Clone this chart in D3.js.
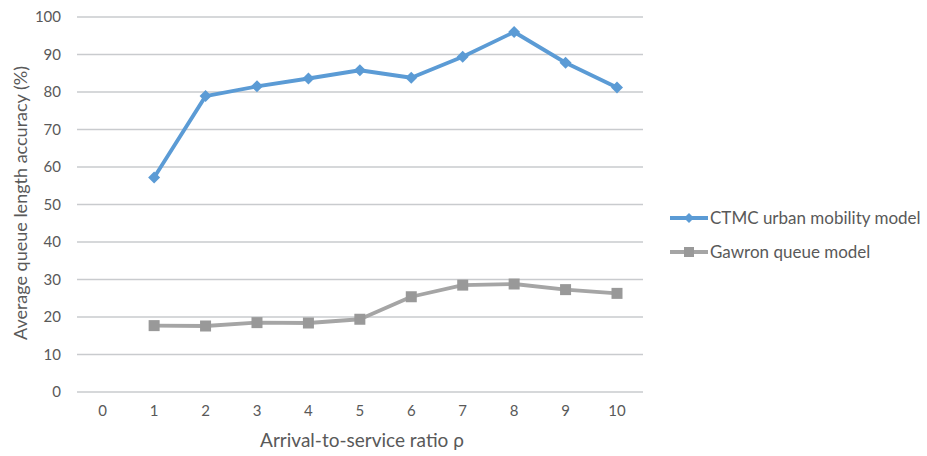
<!DOCTYPE html>
<html><head><meta charset="utf-8">
<script src="https://cdn.jsdelivr.net/npm/d3@7"></script>
<style>body{margin:0;background:#fff}svg{display:block}text{font-family:Lato,"Open Sans",sans-serif;fill:#595959}</style>
</head><body>
<script>
const categories = [0,1,2,3,4,5,6,7,8,9,10];
const ctmc = [null,57.2,78.9,81.5,83.6,85.8,83.8,89.4,96.0,87.8,81.2];
const gawron = [null,17.7,17.6,18.5,18.4,19.4,25.4,28.5,28.8,27.3,26.3];
const yTicks = [0,10,20,30,40,50,60,70,80,90,100];
const seriesNames = ["CTMC urban mobility model","Gawron queue model"];
const colors = ["#5B9BD5","#A5A5A5"];

const W=927,H=456;
const svg=d3.select("body").append("svg").attr("width",W).attr("height",H);
const x=d3.scalePoint().domain(categories).range([102.7,617]);
const y=d3.scaleLinear().domain([0,100]).range([392,17]);

svg.append("g").selectAll("line").data(yTicks).join("line")
  .attr("x1",77).attr("x2",643).attr("y1",d=>y(d)).attr("y2",d=>y(d))
  .attr("stroke","#C9CBCE").attr("stroke-width",1.3);

svg.append("g").selectAll("text").data(yTicks).join("text")
  .attr("x",61).attr("y",d=>y(d)).attr("dy","0.35em").attr("text-anchor","end")
  .attr("font-size",15).text(d=>d);
svg.append("g").selectAll("text").data(categories).join("text")
  .attr("x",d=>x(d)).attr("y",416).attr("text-anchor","middle")
  .attr("font-size",15).text(d=>d);

svg.append("text").attr("x",362).attr("y",447).attr("text-anchor","middle")
  .attr("font-size",19).text("Arrival-to-service ratio ρ");
svg.append("text").attr("transform","translate(27,203) rotate(-90)").attr("text-anchor","middle")
  .attr("font-size",18).text("Average queue length accuracy (%)");

const line=d3.line().defined(d=>d.v!=null).x(d=>x(d.c)).y(d=>y(d.v));
const allSeries=[ctmc,gawron];
allSeries.forEach((s,i)=>{
  const data=categories.map((c,j)=>({c,v:s[j]}));
  svg.append("path").datum(data).attr("d",line).attr("fill","none")
    .attr("stroke",colors[i]).attr("stroke-width",3.8).attr("stroke-linejoin","round");
  const pts=data.filter(d=>d.v!=null);
  if(i===0){
    svg.append("g").selectAll("path").data(pts).join("path")
      .attr("d",d3.symbol().type(d3.symbolSquare).size(72)())
      .attr("transform",d=>`translate(${x(d.c)},${y(d.v)}) rotate(45)`).attr("fill",colors[i]);
  } else {
    svg.append("g").selectAll("rect").data(pts).join("rect")
      .attr("x",d=>x(d.c)-5.5).attr("y",d=>y(d.v)-5.5).attr("width",11).attr("height",11).attr("fill","#999");
  }
});

const legY=[218,252];
seriesNames.forEach((n,i)=>{
  const g=svg.append("g");
  g.append("line").attr("x1",670).attr("x2",708).attr("y1",legY[i]).attr("y2",legY[i])
    .attr("stroke",colors[i]).attr("stroke-width",3.8);
  if(i===0) g.append("path").attr("d",d3.symbol().type(d3.symbolSquare).size(50)())
    .attr("transform",`translate(689,${legY[i]}) rotate(45)`).attr("fill",colors[i]);
  else g.append("rect").attr("x",684).attr("y",legY[i]-5).attr("width",10).attr("height",10).attr("fill","#999");
  g.append("text").attr("x",710).attr("y",legY[i]).attr("dy","0.35em").attr("font-size",17).text(n);
});
</script>
</body></html>
